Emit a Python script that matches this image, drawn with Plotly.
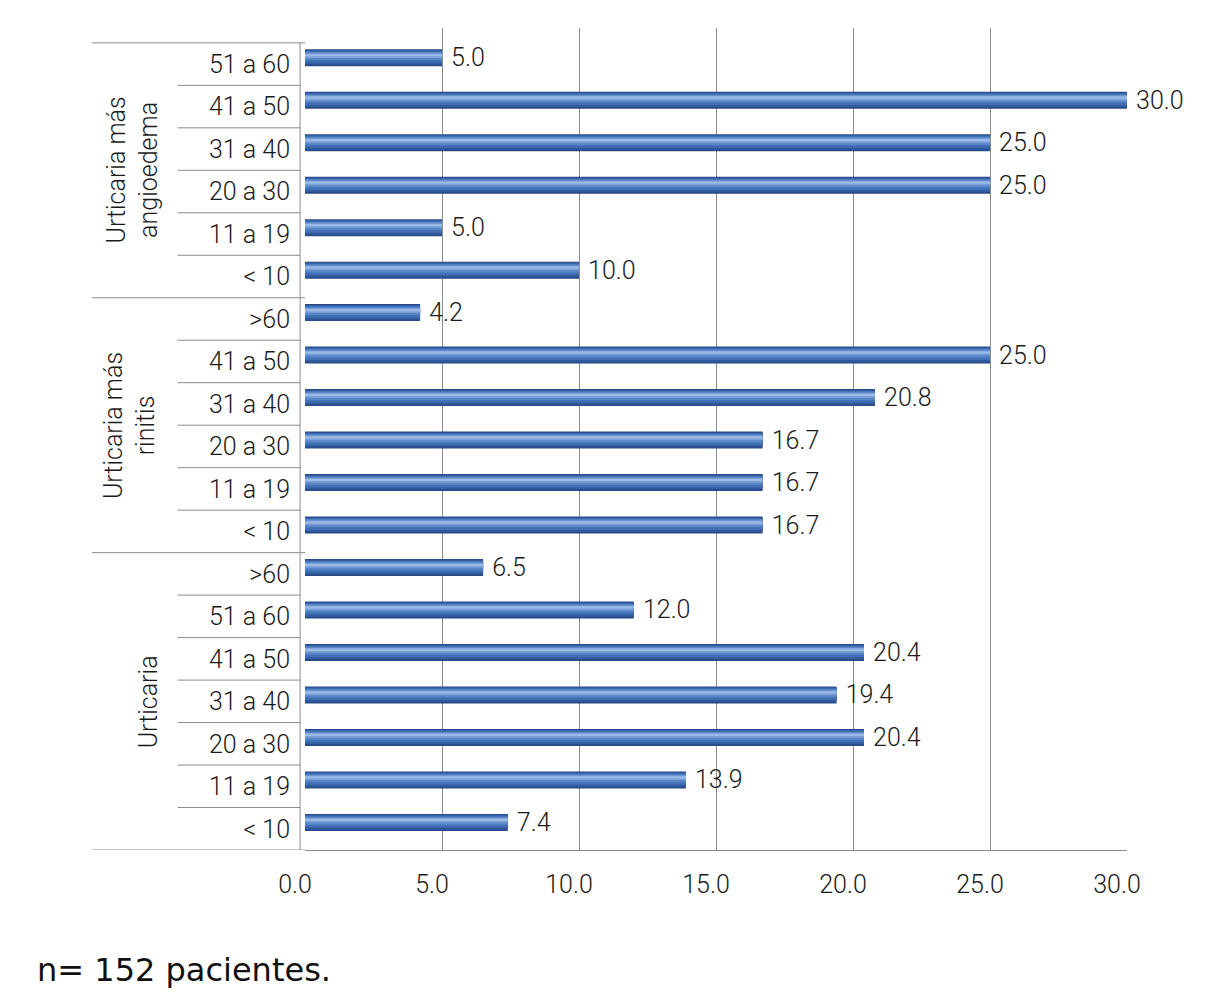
import plotly.graph_objects as go

groups = ["Urticaria más<br>angioedema", "Urticaria más<br>rinitis", "Urticaria"]
group_sizes = [6, 6, 7]
age_labels = [
    "51 a 60", "41 a 50", "31 a 40", "20 a 30", "11 a 19", "< 10",
    ">60", "41 a 50", "31 a 40", "20 a 30", "11 a 19", "< 10",
    ">60", "51 a 60", "41 a 50", "31 a 40", "20 a 30", "11 a 19", "< 10",
]
values = [
    5.0, 30.0, 25.0, 25.0, 5.0, 10.0,
    4.2, 25.0, 20.8, 16.7, 16.7, 16.7,
    6.5, 12.0, 20.4, 19.4, 20.4, 13.9, 7.4,
]
x_ticks = [0, 5, 10, 15, 20, 25, 30]
note = "n= 152 pacientes."

FONT = "Roboto, Liberation Sans Narrow, DejaVu Sans Condensed, sans-serif"
TXT = "#1a1a1a"
FS = 25
LINE = "#8c8c8c"
ypos = list(range(len(values)))
n_cat = len(values)

fig = go.Figure()
c = -0.15
layers = [  # (width, centre shift, colour)
    (0.40, 0.00, "#274A88"),
    (0.34, -0.01, "#335B9F"),
    (0.27, -0.02, "#4270B6"),
    (0.19, -0.04, "#5A86C8"),
    (0.11, -0.05, "#7AA0D8"),
    (0.05, -0.06, "#9BBAE6"),
]
for i, (w, dc, col) in enumerate(layers):
    kw = {}
    if i == 0:
        kw = dict(text=[f"{v:.1f}" for v in values], texttemplate=" %{text}",
                  textposition="outside", constraintext="none",
                  textfont=dict(family=FONT, size=FS, color=TXT, weight=300),
                  cliponaxis=False)
    fig.add_trace(go.Bar(
        x=values, y=ypos, orientation="h", width=w, offset=c + dc - w / 2,
        marker=dict(color=col, line=dict(width=0)), hoverinfo="skip", **kw))

shapes = []
annotations = []
L_GROUP = -0.259
L_CAT = -0.155
start = 0
group_label_x = [-0.209, -0.213, -0.191]
for gi, (g, n) in enumerate(zip(groups, group_sizes)):
    shapes.append(dict(type="line", xref="paper", yref="y", x0=L_GROUP, x1=0.0,
                       y0=start - 0.5, y1=start - 0.5, line=dict(color=LINE, width=1)))
    for k in range(1, n):
        shapes.append(dict(type="line", xref="paper", yref="y", x0=L_CAT, x1=-0.006,
                           y0=start + k - 0.5, y1=start + k - 0.5,
                           line=dict(color=LINE, width=1)))
    annotations.append(dict(xref="paper", yref="y", x=group_label_x[gi],
                            y=start + (n - 1) / 2, text=g, showarrow=False,
                            xanchor="center", yanchor="middle",
                            textangle=-90, align="center",
                            font=dict(family=FONT, size=FS, color=TXT, weight=300)))
    start += n
shapes.append(dict(type="line", xref="paper", yref="y", x0=L_GROUP, x1=0.0,
                   y0=start - 0.5, y1=start - 0.5, line=dict(color=LINE, width=1)))
# front vertical axis line (categories only)
shapes.append(dict(type="line", xref="paper", yref="y", x0=-0.006, x1=-0.006,
                   y0=-0.5, y1=n_cat - 0.5, line=dict(color=LINE, width=1)))

annotations.append(dict(xref="paper", yref="paper", x=-0.329, y=-0.146,
                        xanchor="left", yanchor="middle", text=note, showarrow=False,
                        font=dict(family="DejaVu Sans, Verdana, sans-serif", size=32,
                                  color="#111111")))

fig.update_layout(
    width=1206, height=1001,
    margin=dict(l=297, r=87, t=20, b=159),
    paper_bgcolor="white", plot_bgcolor="white",
    barmode="overlay", showlegend=False,
    shapes=shapes, annotations=annotations,
    xaxis=dict(range=[0, 30], tickvals=x_ticks,
               ticktext=[f"{t:.1f}" for t in x_ticks],
               showgrid=True, gridcolor=LINE, gridwidth=1,
               zeroline=False, showline=True, linecolor=LINE,
               ticks="", ticklabelstandoff=12, ticklabelshift=-10,
               tickfont=dict(family=FONT, size=FS, color=TXT, weight=300)),
    yaxis=dict(range=[n_cat - 0.5, -0.85], tickvals=ypos, ticktext=age_labels,
               showgrid=False, zeroline=False, showline=False,
               ticks="", ticklabelstandoff=14,
               tickfont=dict(family=FONT, size=FS, color=TXT, weight=300)),
)

fig.write_html("out.html")
